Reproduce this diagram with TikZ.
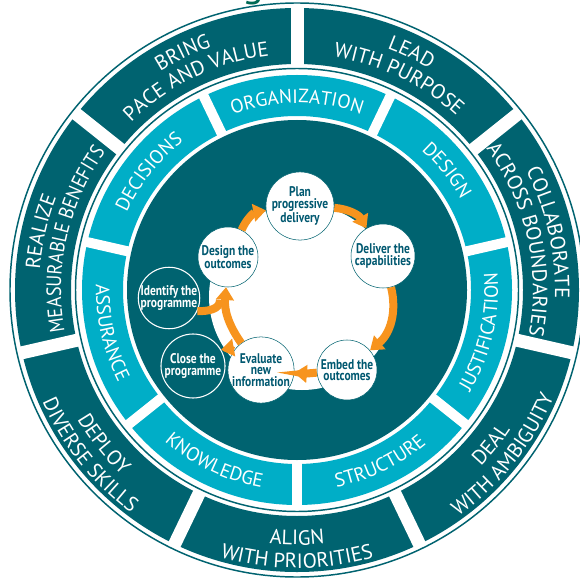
\documentclass[tikz,border=0pt]{standalone}
\usepackage{fontspec}
\newfontfamily\ringfont{PT Sans}
\newfontfamily\ringnarrowfont[FakeStretch=0.88]{PT Sans}
\newfontfamily\cyclefont[FakeStretch=0.82]{PT Sans}
\newcommand\ringsize{\ringfont\fontsize{15.5}{15.5}\selectfont}
\newcommand\ringnarrowsize{\ringnarrowfont\fontsize{15.5}{15.5}\selectfont}
\newcommand\bandsize{\ringfont\fontsize{14.5}{14.5}\selectfont}
\usetikzlibrary{arrows.meta,decorations.text}

\begin{document}
\begin{tikzpicture}[x=0.75pt,y=0.75pt,yscale=-1,xscale=1,
  ringline/.style={draw={rgb, 255:red, 0; green, 99; blue, 112 }, line width=1.1pt},
  darkband/.style={fill={rgb, 255:red, 0; green, 99; blue, 112 }, even odd rule},
  cyanband/.style={fill={rgb, 255:red, 0; green, 174; blue, 199 }, even odd rule},
  outergap/.style={draw=white, line width=9.75pt},
  innergap/.style={draw=white, line width=7.5pt},
  ringword/.style={decorate, decoration={text along path, text align=center, text color=white, text={|\ringsize|#1}}},
  ringnarrow/.style={decorate, decoration={text along path, text align=center, text color=white, text={|\ringnarrowsize|#1}}},
  bandword/.style={decorate, decoration={text along path, text align=center, text color=white, text={|\bandsize|#1}}},
  stepnode/.style={circle, fill=white, draw={rgb, 255:red, 0; green, 99; blue, 112 }, line width=0.4pt, minimum size=45pt, inner sep=0pt, align=center, text={rgb, 255:red, 0; green, 88; blue, 112 }, font=\cyclefont\bfseries\fontsize{10.5}{8.5}\selectfont},
  endnode/.style={stepnode, fill={rgb, 255:red, 0; green, 99; blue, 112 }, draw=white, line width=0.8pt, text=white},
  cyclearrow/.style={draw={rgb, 255:red, 247; green, 148; blue, 30 }, line width=6pt, -{Triangle[width=13pt,length=9.5pt]}},
  cycleline/.style={draw={rgb, 255:red, 247; green, 148; blue, 30 }, line width=6pt}
]
\useasboundingbox (0,0) rectangle (580,584);
\clip (0,0) rectangle (580,584);
\fill [white] (0,0) rectangle (580,584);

%Text: cut title
\node [anchor=base, text={rgb, 255:red, 0; green, 105; blue, 85 }, font=\ringfont\fontsize{30}{30}\selectfont] (titleg) at (253,-3) {g};

\begin{scope}[shift={(297,290)},yscale=-1]
%Shape: Ring [outer band]
\fill [darkband] (0,0) circle [radius=282] (0,0) circle [radius=226];
%Straight Lines [outer gaps]
\draw [outergap] (90:223) -- (90:285);
\draw [outergap] (38.57:223) -- (38.57:285);
\draw [outergap] (-12.86:223) -- (-12.86:285);
\draw [outergap] (-64.29:223) -- (-64.29:285);
\draw [outergap] (-115.71:223) -- (-115.71:285);
\draw [outergap] (-167.14:223) -- (-167.14:285);
\draw [outergap] (141.43:223) -- (141.43:285);
%Shape: Circle [outlines]
\draw [ringline] (0,0) circle [radius=287];
\draw [ringline] (0,0) circle [radius=221.5];

%Shape: Ring [middle band]
\fill [cyanband] (0,0) circle [radius=215] (0,0) circle [radius=174];
%Straight Lines [middle gaps]
\draw [innergap] (115.71:172) -- (115.71:217);
\draw [innergap] (64.29:172) -- (64.29:217);
\draw [innergap] (12.86:172) -- (12.86:217);
\draw [innergap] (-38.57:172) -- (-38.57:217);
\draw [innergap] (-90:172) -- (-90:217);
\draw [innergap] (-141.43:172) -- (-141.43:217);
\draw [innergap] (167.14:172) -- (167.14:217);
%Shape: Circle [inner disk]
\fill [darkband] (0,0) circle [radius=170];

%Text: outer band, upper half
\path [ringword={BRING}] (155.71:258) arc [start angle=155.71, end angle=75.71, radius=258];
\path [ringword={PACE AND VALUE}] (155.71:236) arc [start angle=155.71, end angle=75.71, radius=236];
\path [ringword={LEAD}] (104.29:258) arc [start angle=104.29, end angle=24.29, radius=258];
\path [ringword={WITH PURPOSE}] (104.29:236) arc [start angle=104.29, end angle=24.29, radius=236];
\path [ringword={COLLABORATE}] (52.86:258) arc [start angle=52.86, end angle=-27.14, radius=258];
\path [ringword={ACROSS BOUNDARIES}] (52.86:236) arc [start angle=52.86, end angle=-27.14, radius=236];
\path [ringword={REALIZE}] (207.14:258) arc [start angle=207.14, end angle=127.14, radius=258];
\path [ringnarrow={MEASURABLE BENEFITS}] (207.14:236) arc [start angle=207.14, end angle=127.14, radius=236];
%Text: outer band, lower half
\path [ringword={DEAL}] (-78.57:255) arc [start angle=-78.57, end angle=1.43, radius=255];
\path [ringword={WITH AMBIGUITY}] (-78.57:278) arc [start angle=-78.57, end angle=1.43, radius=278];
\path [ringword={ALIGN}] (-130:255) arc [start angle=-130, end angle=-50, radius=255];
\path [ringword={WITH PRIORITIES}] (-130:278) arc [start angle=-130, end angle=-50, radius=278];
\path [ringword={DEPLOY}] (-181.43:255) arc [start angle=-181.43, end angle=-101.43, radius=255];
\path [ringword={DIVERSE SKILLS}] (-181.43:278) arc [start angle=-181.43, end angle=-101.43, radius=278];

%Text: middle band
\path [bandword={ORGANIZATION}] (130:187) arc [start angle=130, end angle=50, radius=187];
\path [bandword={DESIGN}] (78.57:187) arc [start angle=78.57, end angle=-1.43, radius=187];
\path [bandword={DECISIONS}] (181.43:187) arc [start angle=181.43, end angle=101.43, radius=187];
\path [bandword={JUSTIFICATION}] (-52.86:201) arc [start angle=-52.86, end angle=27.14, radius=201];
\path [bandword={STRUCTURE}] (-104.29:201) arc [start angle=-104.29, end angle=-24.29, radius=201];
\path [bandword={KNOWLEDGE}] (-155.71:201) arc [start angle=-155.71, end angle=-75.71, radius=201];
\path [bandword={ASSURANCE}] (-207.14:201) arc [start angle=-207.14, end angle=-127.14, radius=201];
\end{scope}

%Shape: Circle [cycle backdrop]
\fill [white] (302,297) circle [radius=93];

%Nodes: cycle
\node [stepnode] (plan) at (300,206) {Plan\\progressive\\delivery};
\node [stepnode, minimum size=48pt] (deliver) at (383,256) {Deliver the\\capabilities};
\node [stepnode] (embed) at (347,370) {Embed the\\outcomes};
\node [stepnode] (evaluate) at (261,370) {Evaluate\\new\\information};
\node [stepnode] (design) at (228,257) {Design the\\outcomes};
\node [endnode] (identify) at (169,298) {Identify the\\programme};
\node [endnode, minimum size=48pt] (closeprog) at (193,366) {Close the\\programme};
\coordinate (merge) at (220,300);

%Arrows
\draw [cyclearrow] (design) to [bend right=28] (plan);
\draw [cyclearrow] (plan) to [bend right=28] (deliver);
\draw [cyclearrow] (deliver) to [bend right=32] (embed);
\draw [cyclearrow] (embed) to [bend right=5] (evaluate);
\draw [cyclearrow] (evaluate) to [bend right=20] (design);
\draw [cycleline] (identify.-25) to [out=0,in=90] (merge);
\draw [cyclearrow] (evaluate.145) to [bend left=15] (closeprog.30);

\end{tikzpicture}
\end{document}
